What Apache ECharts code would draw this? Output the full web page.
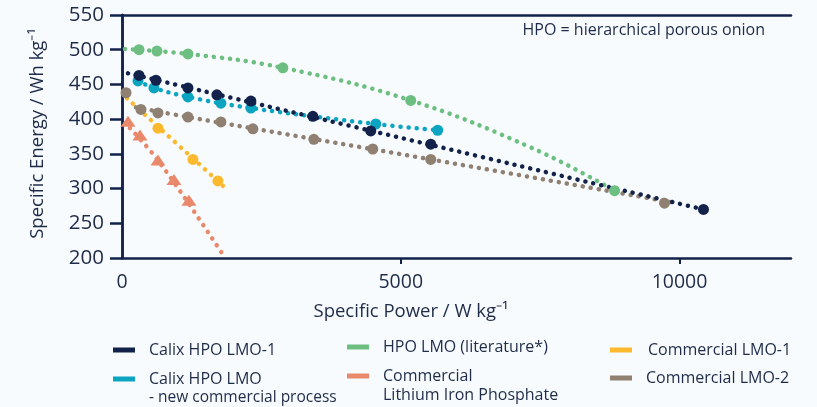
<!DOCTYPE html>
<html lang="en">

<head>
    <meta charset="UTF-8">
    <title>Specific energy vs specific power</title>
    <style>
        html, body { margin: 0; padding: 0; background: #f7fbfd; }
    </style>
</head>

<body>
    <div id="main" style="width: 817px; height:407px"></div>
    <script src="https://cdn.jsdelivr.net/npm/echarts@6/dist/echarts.min.js"></script>
    <script type="text/javascript">
        // measured points (W/kg, Wh/kg)
        var calix1Pts = [[305, 463], [609, 456], [1183, 445], [1702, 435], [2312, 426], [3423, 404], [4462, 383], [5538, 364], [10430, 270]];
        var calixNewPts = [[287, 455], [573, 445], [1183, 432], [1774, 423], [2312, 416], [4552, 393], [5663, 384]];
        var litPts = [[305, 500], [627, 498], [1183, 494], [2885, 474], [5179, 427], [8835, 297]];
        var lfpPts = [[108, 397], [323, 377], [645, 341], [932, 313], [1201, 283]];
        var lmo1Pts = [[645, 387], [1272, 342], [1720, 311]];
        var lmo2Pts = [[72, 438], [340, 414], [645, 409], [1183, 403], [1774, 396], [2348, 386], [3441, 371], [4498, 357], [5538, 342], [9731, 279]];

        // dotted trend lines as drawn in the figure
        var calix1Trend = [[108, 466], [10430, 270]];
        var calixNewTrend = [[287, 455], [573, 445], [1183, 432], [2312, 416], [4552, 393], [5663, 384]];
        var litTrend = [[54, 501], [1183, 494], [2885, 474], [5179, 427], [7366, 358], [8835, 297]];
        var lfpTrend = [[143, 387], [681, 337], [1792, 207]];
        var lmo1Trend = [[90, 430], [1810, 304]];
        var lmo2Trend = [[250, 417], [1183, 403], [5538, 342], [9950, 279]];

        var xLabels = [0, 5000, 10000];

        var navy = '#13224a', teal = '#0ba5c2', green = '#6cbf80',
            orange = '#e8896c', yellow = '#fdb92e', brown = '#8f8072';
        var ink = '#1f2b48';
        var font = 'Open Sans';

        var myChart = echarts.init(document.getElementById('main'));

        function trend(name, data, color) {
            return {
                name: name + ' trend',
                type: 'line',
                data: data,
                smooth: 0.4,
                showSymbol: false,
                silent: true,
                lineStyle: { color: color, width: 4.5, type: [0.1, 8], cap: 'round' },
                z: 2
            };
        }

        function marks(name, data, color, symbol, size) {
            return {
                name: name,
                type: 'scatter',
                data: data,
                symbol: symbol || 'circle',
                symbolSize: size || 11,
                itemStyle: { color: color, opacity: 1 },
                z: 3
            };
        }

        function legendItem(name, left, top, color, text, padTop, padLeft) {
            return {
                left: left,
                top: top,
                padding: 0,
                orient: 'vertical',
                icon: 'rect',
                itemWidth: 22,
                itemHeight: 5,
                selectedMode: false,
                data: [{ name: name, itemStyle: { color: color } }],
                formatter: function () { return text; },
                textStyle: {
                    fontFamily: font,
                    fontSize: 16,
                    color: ink,
                    padding: [padTop || 0, 0, 0, padLeft || 9],
                    rich: {
                        a: { fontFamily: font, fontSize: 16, color: ink, lineHeight: 19 },
                        b: { fontFamily: font, fontSize: 15.5, color: ink, lineHeight: 19 }
                    }
                }
            };
        }

        var option = {
            backgroundColor: '#f7fbfd',
            animation: false,
            title: {
                text: 'HPO = hierarchical porous onion',
                right: 52,
                top: 22,
                padding: 0,
                textStyle: { fontFamily: font, fontSize: 16, fontWeight: 'normal', color: ink }
            },
            grid: { left: 122, right: 26, top: 15, bottom: 149 },
            legend: [
                legendItem('Calix HPO LMO-1', 113, 342, navy, 'Calix HPO LMO-1'),
                legendItem('HPO LMO (literature*)', 347, 339, green, 'HPO LMO (literature*)'),
                legendItem('Commercial LMO-1', 610, 342, yellow, 'Commercial LMO-1', 0, 11),
                legendItem('Calix HPO LMO', 113, 371, teal,
                    '{a|Calix HPO LMO}\n{b|- new commercial process}', 19),
                legendItem('Commercial Lithium Iron Phosphate', 347, 368, orange,
                    '{a|Commercial}\n{a|Lithium Iron Phosphate}', 19),
                legendItem('Commercial LMO-2', 610, 370, brown, 'Commercial LMO-2')
            ],
            xAxis: [{
                type: 'value',
                min: 0,
                max: 12000,
                interval: 5000,
                name: 'Specific Power / W kg\u207B\u00B9',
                nameLocation: 'middle',
                nameGap: 44,
                nameTextStyle: { fontFamily: font, fontSize: 18.5, color: ink, padding: [0, 91, 0, 0] },
                splitLine: { show: false },
                axisLine: { onZero: false, lineStyle: { color: navy, width: 2.5 } },
                axisTick: { customValues: [5000, 10000], length: 6, lineStyle: { color: navy, width: 2 } },
                axisLabel: {
                    customValues: xLabels, margin: 14, fontFamily: font, fontSize: 19.5, color: ink,
                    formatter: function (v) { return String(v); }
                }
            }, {
                type: 'value',
                position: 'top',
                min: 0,
                max: 12000,
                axisLine: { show: true, lineStyle: { color: navy, width: 2.5 } },
                axisTick: { show: false },
                axisLabel: { show: false },
                splitLine: { show: false }
            }],
            yAxis: [{
                type: 'value',
                min: 200,
                max: 550,
                interval: 50,
                name: 'Specific Energy / Wh kg\u207B\u00B9',
                nameLocation: 'middle',
                nameGap: 75,
                nameTextStyle: { fontFamily: font, fontSize: 18.5, color: ink, padding: [0, 0, 0, 6] },
                splitLine: { show: false },
                axisLine: { show: true, onZero: false, lineStyle: { color: navy, width: 2.5 } },
                axisTick: { show: true, length: 12, lineStyle: { color: navy, width: 2.5 } },
                axisLabel: { margin: 18, fontFamily: font, fontSize: 20.5, color: ink }
            }, {
                type: 'value',
                position: 'right',
                min: 200,
                max: 550,
                axisLine: { show: true, lineStyle: { color: navy, width: 2.5 } },
                axisTick: { show: false },
                axisLabel: { show: false },
                splitLine: { show: false }
            }],
            series: [
                trend('HPO LMO (literature*)', litTrend, green),
                trend('Commercial LMO-2', lmo2Trend, brown),
                trend('Commercial LMO-1', lmo1Trend, yellow),
                trend('Commercial Lithium Iron Phosphate', lfpTrend, orange),
                trend('Calix HPO LMO', calixNewTrend, teal),
                trend('Calix HPO LMO-1', calix1Trend, navy),
                marks('HPO LMO (literature*)', litPts, green),
                marks('Commercial LMO-2', lmo2Pts, brown),
                marks('Commercial LMO-1', lmo1Pts, yellow),
                marks('Commercial Lithium Iron Phosphate', lfpPts, orange, 'triangle', [15, 11]),
                marks('Calix HPO LMO', calixNewPts, teal),
                marks('Calix HPO LMO-1', calix1Pts, navy)
            ]
        };
        myChart.setOption(option);
    </script>

</body>

</html>
